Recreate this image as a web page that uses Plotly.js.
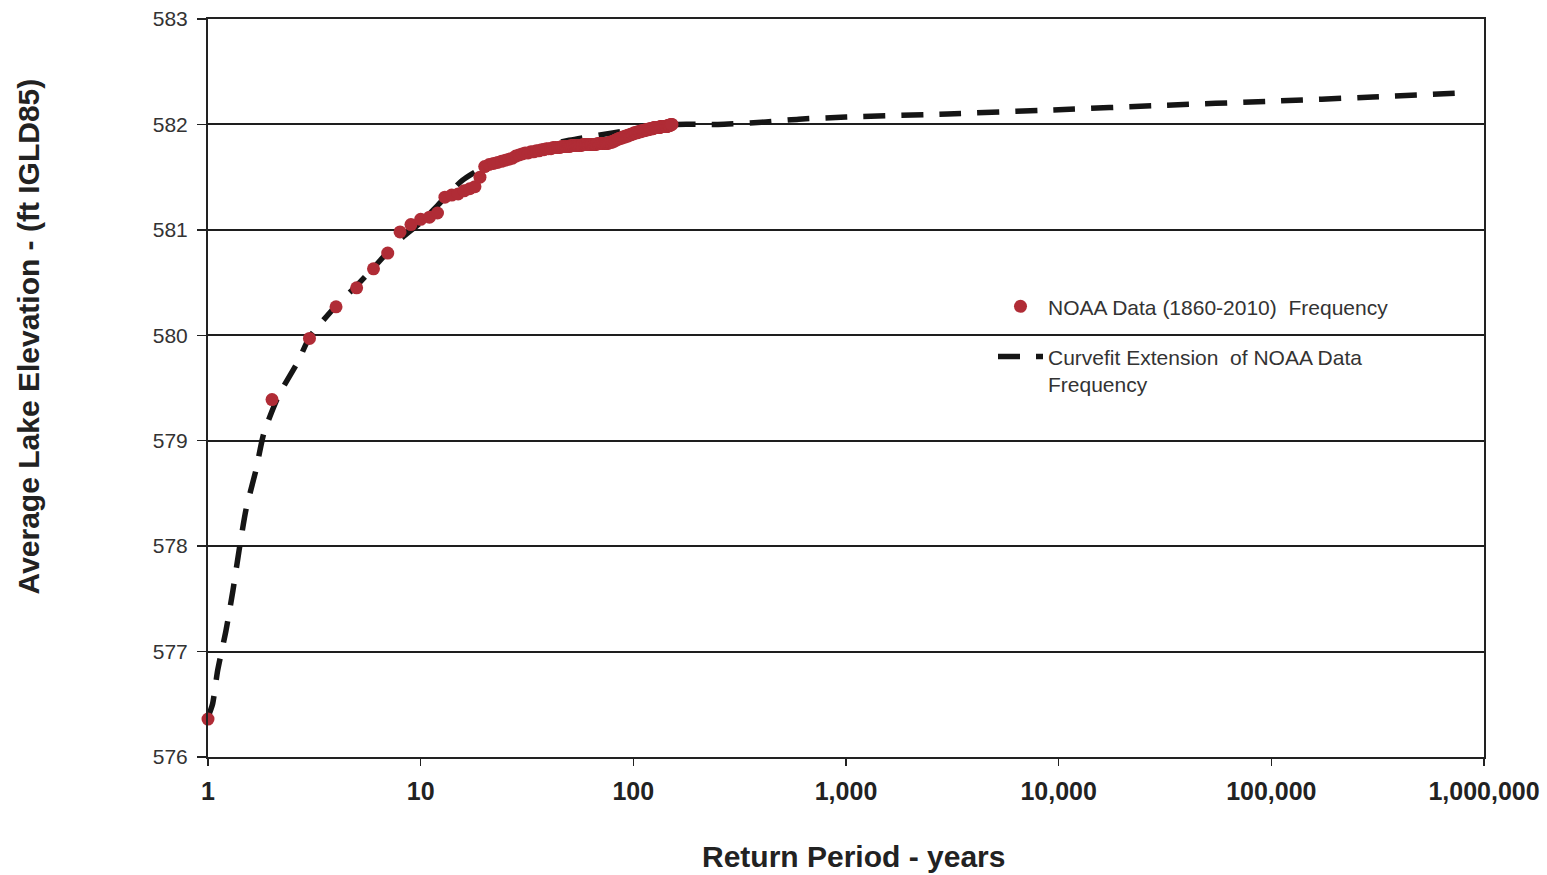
<!DOCTYPE html>
<html>
<head>
<meta charset="utf-8">
<script src="https://cdn.plot.ly/plotly-3.0.1.min.js"></script>
<style>
html,body{margin:0;padding:0;background:#fff;}
#chart{width:1547px;height:875px;}
</style>
</head>
<body>
<div id="chart"></div>
<script>
// Return period (years) of observed NOAA data
const dataYears = Array.from({length: 152}, (_, i) => i + 1);
// Average lake elevation (ft IGLD85) for each return period 1..152
const dataElev = [
  576.36, 579.39, 579.97, 580.27, 580.45, 580.63, 580.78, 580.98, 581.05, 581.10,
  581.12, 581.16, 581.31, 581.33, 581.34, 581.37, 581.39, 581.41, 581.50, 581.60,
  581.62, 581.63, 581.64, 581.65, 581.66, 581.67, 581.68, 581.70, 581.71, 581.72,
  581.73, 581.73, 581.74, 581.74, 581.75, 581.75, 581.76, 581.76, 581.77, 581.77,
  581.77, 581.78, 581.78, 581.78, 581.78, 581.79, 581.79, 581.79, 581.79, 581.79,
  581.80, 581.80, 581.80, 581.80, 581.80, 581.80, 581.80, 581.81, 581.81, 581.81,
  581.81, 581.81, 581.81, 581.81, 581.81, 581.81, 581.81, 581.82, 581.82, 581.82,
  581.82, 581.82, 581.82, 581.82, 581.82, 581.82, 581.83, 581.83, 581.83, 581.84,
  581.84, 581.85, 581.85, 581.86, 581.86, 581.87, 581.87, 581.87, 581.88, 581.88,
  581.88, 581.89, 581.89, 581.89, 581.90, 581.90, 581.90, 581.91, 581.91, 581.91,
  581.92, 581.92, 581.92, 581.92, 581.93, 581.93, 581.93, 581.93, 581.94, 581.94,
  581.94, 581.94, 581.94, 581.95, 581.95, 581.95, 581.95, 581.95, 581.96, 581.96,
  581.96, 581.96, 581.96, 581.96, 581.97, 581.97, 581.97, 581.97, 581.97, 581.97,
  581.97, 581.97, 581.97, 581.98, 581.98, 581.98, 581.98, 581.98, 581.98, 581.98,
  581.98, 581.98, 581.98, 581.98, 581.99, 581.99, 581.99, 581.99, 581.99, 582.00,
  582.00, 582.00
];
// Curve-fit extension
const fitYears = [1, 1.05, 1.11, 1.215, 1.31, 1.4, 1.51, 1.68, 1.83, 2.15, 2.65, 3, 4, 5, 6, 7.8, 10, 12, 15.7, 20, 30, 50, 80, 120, 160, 250, 400, 600, 1000, 3000, 10000, 30000, 100000, 300000, 830000];
const fitElev = [576.38, 576.5, 576.82, 577.2, 577.58, 577.96, 578.35, 578.72, 579.07, 579.43, 579.75, 579.98, 580.28, 580.47, 580.64, 580.89, 581.07, 581.23, 581.47, 581.6, 581.74, 581.85, 581.92, 581.97, 582.0, 582.0, 582.02, 582.05, 582.07, 582.1, 582.14, 582.18, 582.22, 582.26, 582.30];

const xTickVals = [1, 10, 100, 1000, 10000, 100000, 1000000];
const xTickText = ['1', '10', '100', '1,000', '10,000', '100,000', '1,000,000'];
const yTickVals = [576, 577, 578, 579, 580, 581, 582, 583];

const seriesNames = ['NOAA Data (1860-2010)  Frequency', 'Curvefit Extension  of NOAA Data<br>Frequency'];
const titleX = 'Return Period - years';
const titleY = 'Average Lake Elevation - (ft IGLD85)';

const FONT = '"Liberation Sans", Arial, sans-serif';

const traces = [
  {
    x: fitYears, y: fitElev, type: 'scatter', mode: 'lines',
    name: seriesNames[1], legendgroup: 'b', legendrank: 2,
    line: {color: '#151515', width: 5.5, dash: '22px,16px', shape: 'spline', smoothing: 0.6},
    hoverinfo: 'x+y'
  },
  {
    x: dataYears, y: dataElev, type: 'scatter', mode: 'markers',
    name: seriesNames[0], legendgroup: 'a', legendrank: 1,
    marker: {color: '#b02c36', size: 13},
    cliponaxis: false,
    hoverinfo: 'x+y'
  }
];

const layout = {
  width: 1547, height: 875,
  margin: {l: 208, r: 63, t: 19, b: 118},
  paper_bgcolor: '#ffffff', plot_bgcolor: '#ffffff',
  font: {family: FONT, color: '#222'},
  showlegend: true,
  legend: {
    x: 0.6152, y: 0.638, xanchor: 'left', yanchor: 'top',
    bgcolor: 'rgba(0,0,0,0)', borderwidth: 0,
    font: {family: FONT, size: 21, color: '#333'},
    traceorder: 'grouped', tracegroupgap: 20, valign: 'top',
    itemwidth: 45
  },
  xaxis: {
    type: 'log', range: [0, 6],
    tickmode: 'array', tickvals: xTickVals, ticktext: xTickText,
    ticks: 'outside', ticklen: 7, tickwidth: 1.5, tickcolor: '#222',
    showgrid: false, zeroline: false,
    showline: true, linecolor: '#222', linewidth: 2, mirror: true,
    tickfont: {family: FONT, size: 25, color: '#222', weight: 'bold'},
    ticklabelstandoff: 4
  },
  yaxis: {
    range: [576, 583],
    tickmode: 'array', tickvals: yTickVals,
    ticks: 'outside', ticklen: 9, tickwidth: 1.5, tickcolor: '#222',
    showgrid: true, gridcolor: '#1e1e1e', gridwidth: 2,
    zeroline: false,
    showline: true, linecolor: '#222', linewidth: 2, mirror: true,
    tickfont: {family: FONT, size: 21, color: '#333'},
    ticklabelstandoff: 5
  },
  annotations: [
    {
      text: titleX, xref: 'paper', yref: 'paper', x: 0.5055, y: -0.1355,
      xanchor: 'center', yanchor: 'middle', showarrow: false,
      font: {family: FONT, size: 30, color: '#222', weight: 'bold'}
    },
    {
      text: titleY, xref: 'paper', yref: 'paper', x: -0.141, y: 0.570,
      xanchor: 'center', yanchor: 'middle', showarrow: false, textangle: -90,
      font: {family: FONT, size: 30, color: '#222', weight: 'bold'}
    }
  ]
};

Plotly.newPlot('chart', traces, layout, {displayModeBar: false, staticPlot: true});
</script>
</body>
</html>
